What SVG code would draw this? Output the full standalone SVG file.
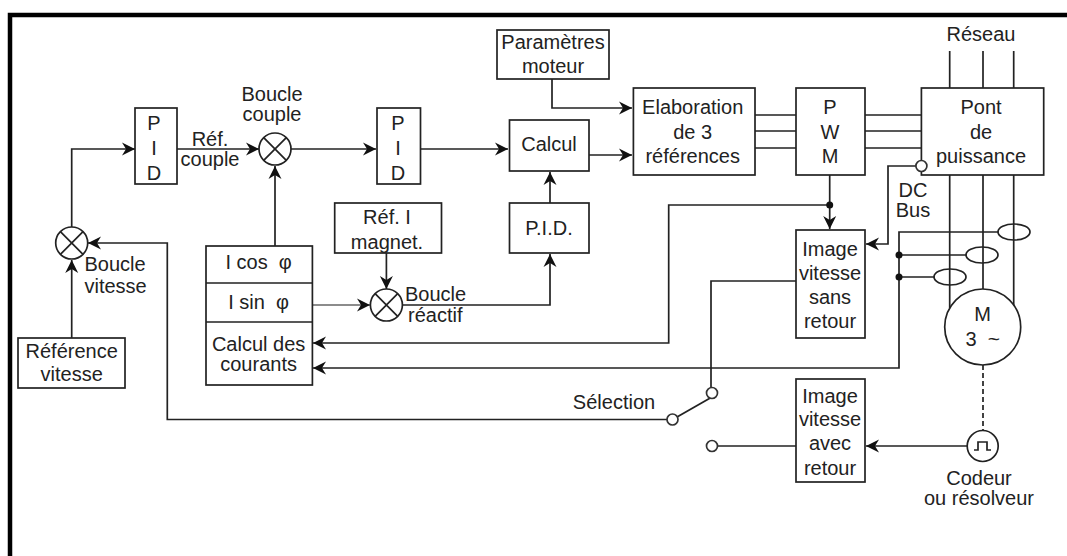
<svg xmlns="http://www.w3.org/2000/svg" width="1067" height="556" viewBox="0 0 1067 556">
<style>
text{font-family:"Liberation Sans",Arial,sans-serif;font-size:20px;fill:#222;text-anchor:middle}
.s{text-anchor:start}
rect,circle.n{fill:#fff;stroke:#222;stroke-width:1.7}
ellipse{fill:none;stroke:#222;stroke-width:1.7}
.c{fill:none;stroke:#222;stroke-width:1.7}
.a{marker-end:url(#ah)}
.o{fill:#fff;stroke:#333;stroke-width:1.7}
.d{fill:#111}
</style>
<defs><marker id="ah" markerUnits="userSpaceOnUse" markerWidth="15" markerHeight="15" refX="14" refY="7.5" orient="auto"><path d="M1,1 L14,7.5 L1,14 L5,7.5 Z" fill="#111"/></marker></defs>
<rect width="1067" height="556" style="fill:#fff;stroke:none"/>
<path id="frame" d="M10,556 V15 H1067" style="fill:none;stroke:#000;stroke-width:4.5"/>
<g id="connectors">
<path class="c a" d="M71.7,227 V149 H135"/>
<path class="c a" d="M177,149 H259"/>
<path class="c a" d="M291,149 H376"/>
<path class="c a" d="M420.5,149 H508"/>
<path class="c a" d="M275,246 V166"/>
<path class="c a" d="M71.7,338 V260"/>
<path class="c a" d="M386.4,253 V289"/>
<path class="c a" d="M312.4,305 H370" style="stroke:#666"/>
<path class="c a" d="M402,305 H550 V254"/>
<path class="c a" d="M550,203 V172"/>
<path class="c a" d="M552,79 V108 H632"/>
<path class="c a" d="M589,155 H632"/>
<path class="c" d="M755,115 H796 M755,131 H796 M755,148 H796 M865,115 H921.4 M865,131 H921.4 M865,148 H921.4"/>
<path class="c" d="M949.7,51 V88 M983,51 V88 M1013.7,51 V88 M949.7,175 V308 M983,175 V290 M1013.7,175 V306"/>
<path class="c a" d="M829.7,175 V229"/>
<path class="c a" d="M829.7,205 H668.7 V343 H313"/>
<path class="c a" d="M916,166 H888 V244 H866"/>
<path class="c a" d="M998,232 H899 V368 H313"/>
<path class="c" d="M899,255 H966 M899,277 H934"/>
<path class="c" d="M796,281 H711 V388"/>
<path class="c" d="M677,417 L712,397"/>
<path class="c a" d="M667,419.5 H167.3 V243 H88"/>
<path class="c" d="M718,446 H796"/>
<path class="c a" d="M967,446 H866"/>
<path class="c" d="M983,365 V431" stroke-dasharray="5 3"/>
<circle class="d" cx="829.7" cy="205" r="3.5"/>
<circle class="d" cx="899" cy="255" r="3.5"/>
<circle class="d" cx="899" cy="277" r="3.5"/>
</g>
<g id="pid1"><rect x="135" y="108" width="42" height="76"/><text x="154" y="130">P</text><text x="154" y="155">I</text><text x="154" y="180">D</text></g>
<g id="pid2"><rect x="377" y="108" width="43.500" height="76"/><text x="398" y="130">P</text><text x="398" y="155">I</text><text x="398" y="180">D</text></g>
<g id="parametres"><rect x="497" y="30" width="112" height="49"/><text x="553" y="49">Paramètres</text><text x="553" y="73">moteur</text></g>
<g id="calcul"><rect x="509.500" y="120" width="79.500" height="51"/><text x="549" y="151">Calcul</text></g>
<g id="pid3"><rect x="509.500" y="203" width="79.500" height="50"/><text x="549" y="235">P.I.D.</text></g>
<g id="ref-magnet"><rect x="334.700" y="203" width="106.800" height="50"/><text x="387" y="224">Réf. I</text><text x="387" y="249">magnet.</text></g>
<g id="elaboration"><rect x="633.400" y="88" width="121.600" height="87"/><text x="692.700" y="114">Elaboration</text><text x="692.700" y="139">de 3</text><text x="692.700" y="163">références</text></g>
<g id="pwm"><rect x="796" y="88" width="69" height="87"/><text x="830" y="114">P</text><text x="830" y="139">W</text><text x="830" y="163">M</text></g>
<g id="pont"><rect x="921.400" y="88" width="122.300" height="87"/><text x="981" y="114">Pont</text><text x="981" y="139">de</text><text x="981" y="163">puissance</text></g>
<g id="image-sans"><rect x="796" y="230" width="69" height="108"/><text x="830" y="256">Image</text><text x="830" y="280">vitesse</text><text x="830" y="304">sans</text><text x="830" y="328">retour</text></g>
<g id="image-avec"><rect x="796" y="379" width="69" height="103"/><text x="830" y="403">Image</text><text x="830" y="426">vitesse</text><text x="830" y="450">avec</text><text x="830" y="475">retour</text></g>
<g id="courants"><rect x="206" y="246" width="106.400" height="139"/><path class="c" d="M206,283 H312.400 M206,322 H312.400"/><text x="258.600" y="269" xml:space="preserve">I cos  φ</text><text x="258.600" y="309" xml:space="preserve">I sin  φ</text><text x="258.600" y="351">Calcul des</text><text x="258.600" y="371">courants</text></g>
<g id="ref-vitesse"><rect x="18" y="338" width="107" height="50"/><text x="71.700" y="358">Référence</text><text x="71.700" y="381">vitesse</text></g>
<g id="sum-vitesse"><circle class="n" cx="71.700" cy="243" r="16"/><path class="c" d="M60.400,231.700 L83,254.300 M60.400,254.300 L83,231.700"/></g>
<g id="sum-couple"><circle class="n" cx="275" cy="149" r="16"/><path class="c" d="M263.700,137.700 L286.300,160.300 M263.700,160.300 L286.300,137.700"/></g>
<g id="sum-reactif"><circle class="n" cx="386.400" cy="305" r="16"/><path class="c" d="M375.100,293.700 L397.700,316.300 M375.100,316.300 L397.700,293.700"/></g>
<g id="motor"><circle class="n" cx="982.700" cy="327" r="38"/><text x="982.700" y="321">M</text><text x="982.700" y="345.500" xml:space="preserve">3  <tspan style="font-size:21px">~</tspan></text></g>
<g id="encoder"><circle class="n" cx="982.700" cy="446" r="15.500"/><path class="c" d="M974,450 H978 V442 H987 V450 H991"/></g>
<g id="current-sensors"><ellipse cx="1014" cy="232" rx="16" ry="8"/><ellipse cx="982" cy="255" rx="16" ry="8"/><ellipse cx="950" cy="277" rx="16" ry="8"/></g>
<g id="terminals"><circle class="o" cx="921.400" cy="166" r="5.500"/><circle class="o" cx="712" cy="393" r="5.500"/><circle class="o" cx="672.500" cy="419.500" r="5.500"/><circle class="o" cx="712" cy="446" r="5.500"/></g>
<g id="labels">
<text x="272" y="101">Boucle</text><text x="272" y="121">couple</text>
<text x="210" y="146">Réf.</text><text x="210" y="166">couple</text>
<text class="s" x="84.500" y="271">Boucle</text><text class="s" x="84.500" y="293">vitesse</text>
<text class="s" x="405" y="301">Boucle</text><text class="s" x="408" y="322">réactif</text>
<text x="981" y="41">Réseau</text>
<text x="913" y="197">DC</text><text x="913" y="217">Bus</text>
<text x="614" y="409">Sélection</text>
<text x="979" y="485">Codeur</text><text x="979" y="505">ou résolveur</text>
</g>
</svg>
